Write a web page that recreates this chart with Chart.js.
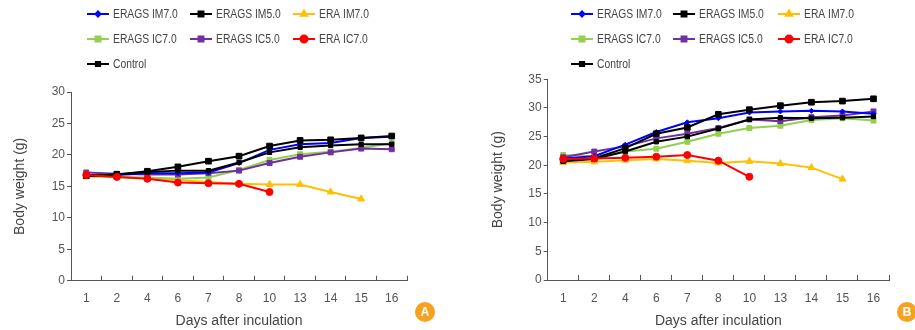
<!DOCTYPE html>
<html>
<head>
<meta charset="utf-8">
<script src="https://cdn.jsdelivr.net/npm/chart.js@4.4.0/dist/chart.umd.min.js"></script>
<style>
    html, body { margin: 0; padding: 0; background: #fff; }
    body { width: 915px; height: 330px; position: relative; overflow: hidden; }
    .wrap { position: absolute; top: 0; height: 330px; }
    #wrapA { left: 0; width: 440px; }
    #wrapB { left: 460px; width: 455px; }
    .badge {
        position: absolute; width: 20px; height: 20px; border-radius: 50%;
        background: #f6a21e; color: #fff; font: bold 12px "Liberation Sans", sans-serif;
        text-align: center; line-height: 20px;
    }
</style>
</head>
<body>
<div class="wrap" id="wrapA"><canvas id="chartA" width="440" height="330"></canvas></div>
<div class="wrap" id="wrapB"><canvas id="chartB" width="455" height="330"></canvas></div>
<div class="badge" style="left:415px; top:302px;">A</div>
<div class="badge" style="left:897px; top:302px;">B</div>
<script>
const days = ['1', '2', '4', '6', '7', '8', '10', '13', '14', '15', '16'];
const seriesNames = ['ERAGS IM7.0', 'ERAGS IM5.0', 'ERA IM7.0', 'ERAGS IC7.0', 'ERAGS IC5.0', 'ERA IC7.0', 'Control'];

// panel A
const aIM70 = [16.8, 16.8, 17.1, 17.1, 17.2, 18.7, 20.8, 21.7, 21.9, 22.7, 22.9];
const aIM50 = [16.7, 16.9, 17.4, 18.1, 19.0, 19.8, 21.4, 22.3, 22.4, 22.7, 23.0];
const aEraIM70 = [16.6, 16.5, 16.3, 16.0, 15.7, 15.4, 15.3, 15.3, 14.1, 13.0, null];
const aIC70 = [16.6, 16.5, 16.4, 16.2, 16.4, 17.6, 19.2, 20.1, 20.5, 21.1, 21.9];
const aIC50 = [17.2, 17.0, 16.9, 16.9, 17.1, 17.5, 18.7, 19.7, 20.4, 21.0, 20.9];
const aEraIC70 = [16.8, 16.5, 16.2, 15.6, 15.5, 15.4, 14.1, null, null, null, null];
const aControl = [16.6, 16.9, 17.3, 17.5, 17.5, 18.8, 20.4, 21.2, 21.5, 21.7, 21.7];

// panel B
const bIM70 = [21.2, 21.6, 23.6, 25.8, 27.5, 28.2, 29.2, 29.4, 29.5, 29.4, 29.0];
const bIM50 = [20.9, 21.2, 23.0, 25.5, 26.6, 28.9, 29.7, 30.4, 31.0, 31.2, 31.6];
const bEraIM70 = [20.5, 20.6, 20.9, 21.1, 20.8, 20.4, 20.7, 20.3, 19.6, 17.6, null];
const bIC70 = [21.8, 21.6, 22.4, 22.9, 24.1, 25.5, 26.5, 26.9, 27.9, 28.2, 27.8];
const bIC50 = [21.4, 22.4, 23.3, 24.7, 25.5, 26.5, 28.0, 27.7, 28.4, 28.7, 29.4];
const bEraIC70 = [21.1, 21.2, 21.3, 21.5, 21.8, 20.8, 18.0, null, null, null, null];
const bControl = [20.7, 21.1, 22.4, 24.1, 25.0, 26.4, 28.0, 28.3, 28.2, 28.3, 28.5];

const FONT = '"Liberation Sans Narrow", "Arial Narrow", "Liberation Sans", sans-serif';
const TEXT = '#555';

// marker style per series, same order as seriesNames
const styles = [
    { color: '#0000ff', point: 'rectRot', radius: 2.5 },
    { color: '#000000', point: 'rect', radius: 4 },
    { color: '#ffc000', point: 'triangle', radius: 4 },
    { color: '#92d050', point: 'rect', radius: 3.5 },
    { color: '#7030a0', point: 'rect', radius: 3.5 },
    { color: '#ff0000', point: 'circle', radius: 3.5 },
    { color: '#000000', point: 'rect', radius: 3 }
];

// draw order: first dataset ends up on top
const drawOrder = [5, 1, 6, 0, 4, 3, 2];

function legendPlugin(cols, rows) {
    return {
        id: 'gridLegend',
        afterDraw(chart) {
            const ctx = chart.ctx;
            ctx.save();
            seriesNames.forEach((name, i) => {
                const st = styles[i];
                const x = cols[i % 3];
                const y = rows[Math.floor(i / 3)];
                ctx.strokeStyle = st.color;
                ctx.lineWidth = 2;
                ctx.beginPath();
                ctx.moveTo(x, y);
                ctx.lineTo(x + 22, y);
                ctx.stroke();
                ctx.fillStyle = st.color;
                Chart.helpers.drawPoint(ctx, { pointStyle: st.point, radius: Math.min(st.radius, 3.5), rotation: 0, borderWidth: 1 }, x + 11, y);
                // narrow the text a bit, the source uses a condensed face
                ctx.save();
                ctx.translate(x + 26, y + 1);
                ctx.scale(0.86, 1);
                ctx.fillStyle = '#444';
                ctx.font = '12px ' + FONT;
                ctx.textBaseline = 'middle';
                ctx.fillText(name, 0, 0);
                ctx.restore();
            });
            ctx.restore();
        }
    };
}

function makeChart(id, data, cfg) {
    const datasets = drawOrder.map(i => ({
        label: seriesNames[i],
        data: data[i],
        borderColor: styles[i].color,
        backgroundColor: styles[i].color,
        pointStyle: styles[i].point,
        pointRadius: styles[i].radius,
        pointBorderWidth: 1,
        borderWidth: 2,
        tension: 0
    }));

    return new Chart(document.getElementById(id).getContext('2d'), {
        type: 'line',
        data: { labels: days, datasets: datasets },
        options: {
            responsive: false,
            animation: false,
            layout: { padding: { top: cfg.top, right: cfg.right, left: 0, bottom: 0 } },
            plugins: { legend: { display: false }, tooltip: { enabled: false } },
            scales: {
                x: {
                    offset: true,
                    grid: { offset: true, drawOnChartArea: false, tickLength: -5, color: '#555' },
                    border: { color: '#555', width: 1 },
                    ticks: { color: TEXT, font: { family: FONT, size: 12 }, autoSkip: false, maxRotation: 0, padding: 16 },
                    title: { display: true, text: 'Days after inculation', color: '#444', font: { family: FONT, size: 14 }, padding: { top: 0, bottom: 0 } },
                    afterFit: s => { s.height = 330 - cfg.bottomY; }
                },
                y: {
                    min: 0,
                    max: cfg.max,
                    ticks: { stepSize: 5, color: TEXT, font: { family: FONT, size: 12 }, padding: 2 },
                    grid: { drawOnChartArea: false, tickLength: 4, color: '#555' },
                    border: { color: '#555', width: 1 },
                    title: { display: true, text: 'Body weight (g)', color: '#444', font: { family: FONT, size: 14 }, padding: { top: cfg.titlePad, bottom: 0 } },
                    afterFit: s => { s.width = cfg.axisX; }
                }
            }
        },
        plugins: [legendPlugin(cfg.cols, [14, 39, 64])]
    });
}

makeChart('chartA', [aIM70, aIM50, aEraIM70, aIC70, aIC50, aEraIC70, aControl], {
    top: 92, right: 33, bottomY: 280.7, axisX: 71, max: 30, titlePad: 12,
    cols: [87, 190, 293]
});

makeChart('chartB', [bIM70, bIM50, bEraIM70, bIC70, bIC50, bEraIC70, bControl], {
    top: 79.3, right: 26, bottomY: 280, axisX: 87.7, max: 35, titlePad: 30,
    cols: [111, 213, 318]
});
</script>
</body>
</html>
